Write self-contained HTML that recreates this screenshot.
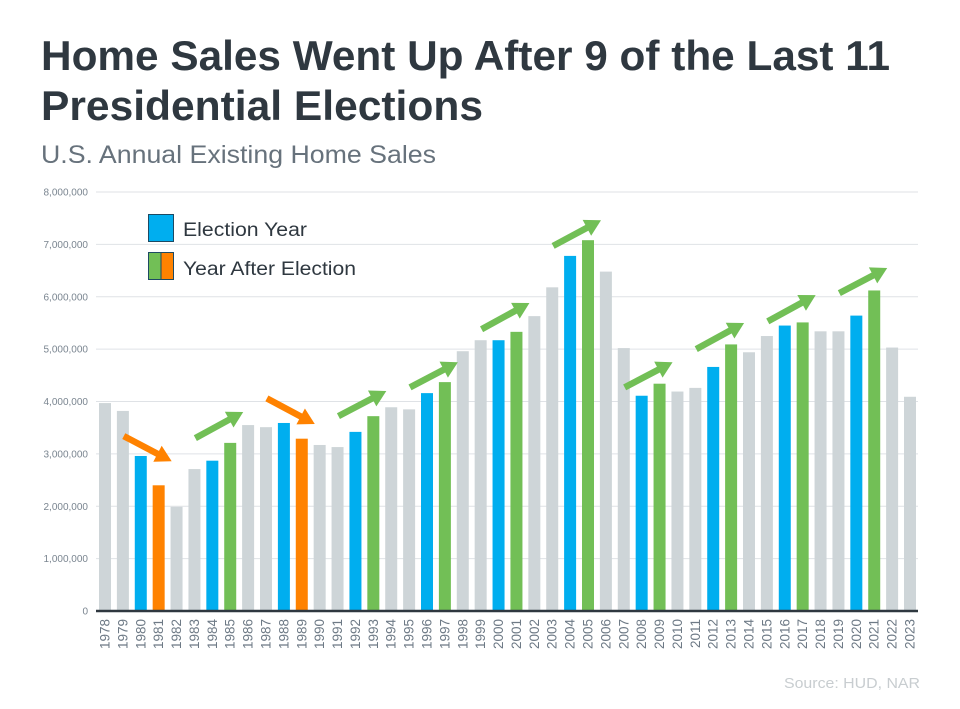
<!DOCTYPE html>
<html><head><meta charset="utf-8"><style>
body{margin:0;background:#fff;}
svg{display:block;font-family:"Liberation Sans",Arial,sans-serif;}
</style></head><body>
<svg id="chart" width="960" height="709" viewBox="0 0 960 709">
<text x="41" y="70" font-size="42" font-weight="bold" fill="#2f3840" textLength="849" lengthAdjust="spacingAndGlyphs">Home Sales Went Up After 9 of the Last 11</text>
<text x="41" y="120" font-size="42" font-weight="bold" fill="#2f3840" textLength="442" lengthAdjust="spacingAndGlyphs">Presidential Elections</text>
<text x="41" y="163" font-size="25" fill="#67727c" textLength="395" lengthAdjust="spacingAndGlyphs">U.S. Annual Existing Home Sales</text>
<g id="grid"></g>
<g id="yticks"></g>
<g id="bars"></g>
<g id="xlabels"></g>
<g id="arrows"></g>
<line x1="96" y1="611" x2="918" y2="611" stroke="#2f3840" stroke-width="2.5"/>
<g>
<rect x="148.5" y="214.5" width="25" height="27" fill="#00aeef" stroke="#1d4a63"/>
<text x="183" y="236" font-size="19" fill="#2f3840" textLength="124" lengthAdjust="spacingAndGlyphs">Election Year</text>
<rect x="148.5" y="252.5" width="12.5" height="27" fill="#72bf56" stroke="#1d4a63"/>
<rect x="161" y="252.5" width="12.5" height="27" fill="#ff8200" stroke="#1d4a63"/>
<text x="183" y="275" font-size="19" fill="#2f3840" textLength="173" lengthAdjust="spacingAndGlyphs">Year After Election</text>
</g>
<text x="920" y="688" font-size="15" fill="#c8cdd0" text-anchor="end" textLength="136" lengthAdjust="spacingAndGlyphs">Source: HUD, NAR</text>
</svg>
<script>
const years=[1978,1979,1980,1981,1982,1983,1984,1985,1986,1987,1988,1989,1990,1991,1992,1993,1994,1995,1996,1997,1998,1999,2000,2001,2002,2003,2004,2005,2006,2007,2008,2009,2010,2011,2012,2013,2014,2015,2016,2017,2018,2019,2020,2021,2022,2023];
const sales=[3.97,3.82,2.96,2.40,1.99,2.71,2.87,3.21,3.55,3.51,3.59,3.29,3.17,3.13,3.42,3.72,3.89,3.85,4.16,4.37,4.96,5.17,5.17,5.33,5.63,6.18,6.78,7.08,6.48,5.02,4.11,4.34,4.19,4.26,4.66,5.09,4.94,5.25,5.45,5.51,5.34,5.34,5.64,6.12,5.03,4.09];
const electionYears=[1980,1984,1988,1992,1996,2000,2004,2008,2012,2016,2020];
const declineYears=[1981,1989];
const yTicks=[0,1,2,3,4,5,6,7,8];
const arrowYears=[1980,1984,1988,1992,1996,2000,2004,2008,2012,2016,2020];
const arrowStart=[3.34,3.30,4.06,3.72,4.27,5.38,6.97,4.27,5.00,5.53,6.07];
const arrowEnd=[2.86,3.80,3.57,4.20,4.75,5.88,7.46,4.75,5.50,6.03,6.55];
const NS='http://www.w3.org/2000/svg';
const x0=99,step=(904-99)/45,bw=12;
function xPos(i){return x0+i*step;}
function yPos(v){return 611-v*(611-192)/8;}
function xc(yr){return xPos(years.indexOf(yr))+bw/2;}
function mk(t,a,p){const e=document.createElementNS(NS,t);for(const k in a)e.setAttribute(k,a[k]);p.appendChild(e);return e;}
const grid=document.getElementById('grid'),yt=document.getElementById('yticks');
yTicks.forEach(v=>{
 if(v>0){const l=mk('line',{x1:96,x2:918,y1:yPos(v),y2:yPos(v),stroke:'#dfe2e6','stroke-width':1},grid);
 
 }
 const t=mk('text',{x:88,y:yPos(v)+3.5,'font-size':10,fill:'#7a8590','text-anchor':'end'},yt);
 t.textContent=(v*1000000).toLocaleString('en-US');
 
 
});
const bars=document.getElementById('bars'),xl=document.getElementById('xlabels');
years.forEach((yr,i)=>{
 let c='#ced5d8';
 if(electionYears.includes(yr))c='#00aeef';
 else if(declineYears.includes(yr))c='#ff8200';
 else if(electionYears.includes(yr-1))c='#72bf56';
 const r=mk('rect',{x:xPos(i),y:yPos(sales[i]),width:bw,height:611-yPos(sales[i]),fill:c},bars);
 
 
 const cx=xPos(i)+bw/2+4.5;
 const t=mk('text',{x:cx,y:619,'font-size':13.5,fill:'#6e7a86','text-anchor':'end',transform:'rotate(-90 '+cx+' 619)'},xl);
 t.textContent=yr;
 
 
});
const ar=document.getElementById('arrows');
arrowYears.forEach((yr,i)=>{
 const down=arrowEnd[i]<arrowStart[i];
 const col=down?'#ff8200':'#72bf56';
 const x1=xc(yr)-17,y1=yPos(arrowStart[i]),x2=xc(yr+1)+13,y2=yPos(arrowEnd[i]);
 const dx=x2-x1,dy=y2-y1,L=Math.hypot(dx,dy),ux=dx/L,uy=dy/L,px=-uy,py=ux;
 const hl=16,hw=9;
 const bx=x2-ux*hl,by=y2-uy*hl;
 const g=mk('g',{},ar);
 
 
 mk('line',{x1:x1,y1:y1,x2:bx+ux*2,y2:by+uy*2,stroke:col,'stroke-width':6.5},g);
 mk('polygon',{points:`${x2},${y2} ${bx+px*hw},${by+py*hw} ${bx-px*hw},${by-py*hw}`,fill:col},g);
});
</script>
</body></html>
